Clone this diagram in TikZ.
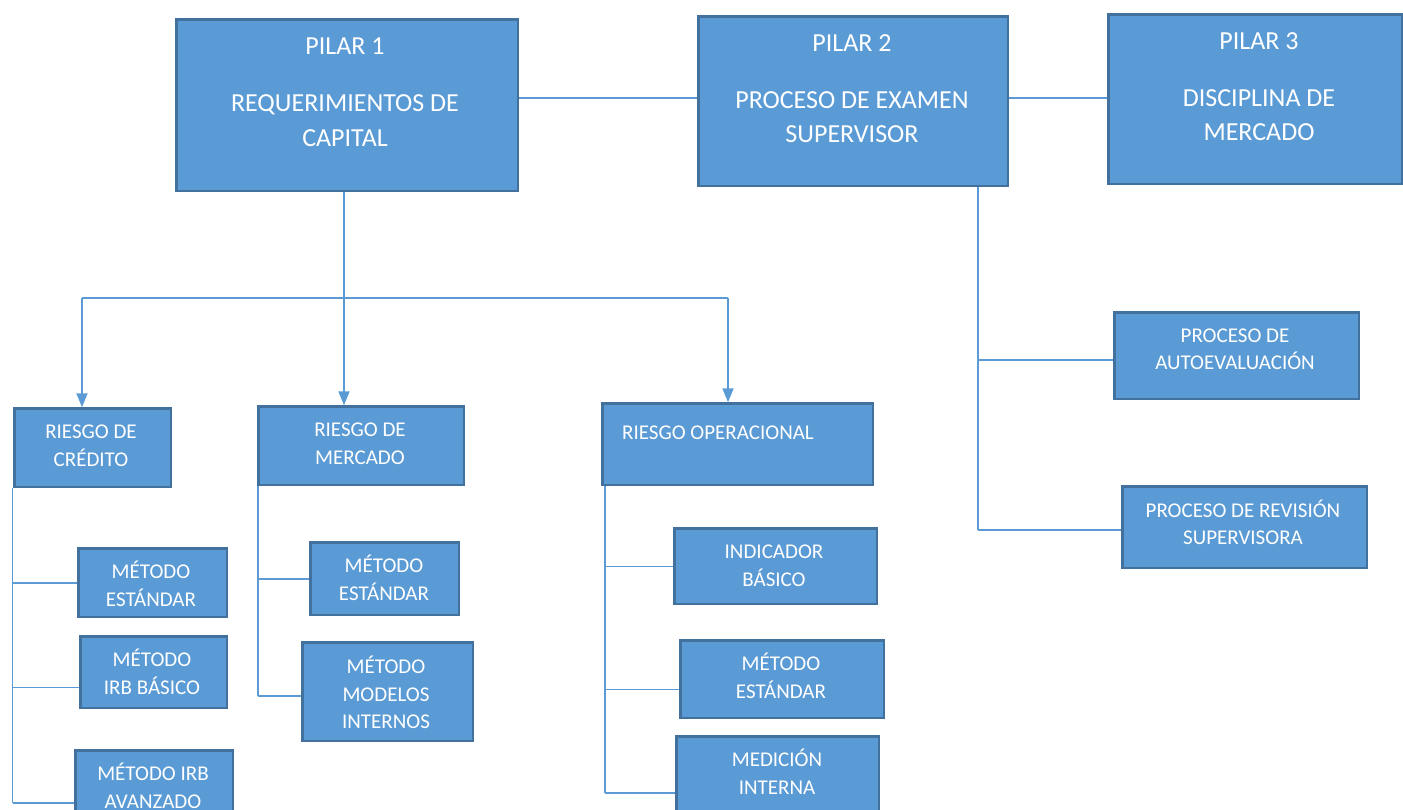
\documentclass[tikz,border=0pt]{standalone}
\usepackage{fontspec}
\setmainfont{Carlito}
\usetikzlibrary{arrows.meta,backgrounds}
\definecolor{boxfill}{RGB}{91,155,213}
\definecolor{boxline}{RGB}{65,113,156}
\definecolor{linkc}{RGB}{91,155,213}
\begin{document}
\begin{tikzpicture}[x=1pt,y=-1pt,
  box/.style 2 args={draw=boxline, fill=boxfill, line width=2.5pt, rectangle, inner sep=0pt,
    anchor=north west, xshift=1.25pt, yshift=-1.25pt,
    minimum width=#1pt-2.5pt, minimum height=#2pt-2.5pt},
  bigt/.style={text=white, font=\fontsize{26}{32}\selectfont, anchor=base, inner sep=0pt},
  smallt/.style={text=white, font=\fontsize{21}{26}\selectfont, anchor=base, inner sep=0pt},
  conn/.style={draw=linkc, line width=1.5pt},
  arr/.style={draw=linkc, line width=2pt, -{Triangle[width=11pt,length=14pt]}, fill=linkc}]
\useasboundingbox (0,0) rectangle (1403,810);
\clip (0,0) rectangle (1403,810);

% boxes
\node[box={344}{174}] (p1) at (174,17) {};
\node[box={312}{172}] (p2) at (696,14) {};
\node[box={296}{172}] (p3) at (1106,12) {};
\node[box={159}{81}] (rc) at (12,406) {};
\node[box={208}{81}] (rm) at (256,404) {};
\node[box={273}{84}] (ro) at (600,401) {};
\node[box={151}{71}] (me1) at (76,546) {};
\node[box={149}{74}] (irbb) at (78,634) {};
\node[box={160}{82}] (irba) at (73,748) {};
\node[box={151}{75}] (ms) at (308,540) {};
\node[box={173}{101}] (mmi) at (300,640) {};
\node[box={205}{78}] (ib) at (672,526) {};
\node[box={206}{80}] (mes) at (678,638) {};
\node[box={205}{96}] (mi) at (674,734) {};
\node[box={247}{89}] (pa) at (1112,310) {};
\node[box={247}{84}] (prs) at (1120,484) {};

% texts
\node[bigt] (p1a) at (345,55) {PILAR 1};
\node[bigt] (p1b) at (345,112) {REQUERIMIENTOS DE};
\node[bigt] (p1c) at (345,147) {CAPITAL};
\node[bigt] (p2a) at (852,52) {PILAR 2};
\node[bigt] (p2b) at (852,109) {PROCESO DE EXAMEN};
\node[bigt] (p2c) at (852,143) {SUPERVISOR};
\node[bigt] (p3a) at (1259,50) {PILAR 3};
\node[bigt] (p3b) at (1259,107) {DISCIPLINA DE};
\node[bigt] (p3c) at (1259,141) {MERCADO};

\node[smallt] (rca) at (91,438) {RIESGO DE};
\node[smallt] (rcb) at (91,466) {CRÉDITO};
\node[smallt] (rma) at (360,436) {RIESGO DE};
\node[smallt] (rmb) at (360,464) {MERCADO};
\node[smallt] (roa) at (718,439) {RIESGO OPERACIONAL};
\node[smallt] (me1a) at (151,578) {MÉTODO};
\node[smallt] (me1b) at (151,606) {ESTÁNDAR};
\node[smallt] (irbba) at (152,666) {MÉTODO};
\node[smallt] (irbbb) at (152,694) {IRB BÁSICO};
\node[smallt] (irbaa) at (153,780) {MÉTODO IRB};
\node[smallt] (irbab) at (153,808) {AVANZADO};
\node[smallt] (msa) at (384,572) {MÉTODO};
\node[smallt] (msb) at (384,600) {ESTÁNDAR};
\node[smallt] (mmia) at (386,673) {MÉTODO};
\node[smallt] (mmib) at (386,701) {MODELOS};
\node[smallt] (mmic) at (386,728) {INTERNOS};
\node[smallt] (iba) at (774,558) {INDICADOR};
\node[smallt] (ibb) at (774,586) {BÁSICO};
\node[smallt] (mesa) at (781,670) {MÉTODO};
\node[smallt] (mesb) at (781,698) {ESTÁNDAR};
\node[smallt] (mia) at (777,766) {MEDICIÓN};
\node[smallt] (mib) at (777,794) {INTERNA};
\node[smallt] (paa) at (1235,342) {PROCESO DE};
\node[smallt] (pab) at (1235,370) {AUTOEVALUACIÓN};
\node[smallt] (prsa) at (1243,517) {PROCESO DE REVISIÓN};
\node[smallt] (prsb) at (1243,544) {SUPERVISORA};

% connector coordinates
\coordinate (top) at (0,98);
\coordinate (j1) at (344,298);
\coordinate (jl) at (82,298);
\coordinate (jr) at (728,298);
\coordinate (cx) at (12.5,803);
\coordinate (mx) at (258,696);
\coordinate (ox) at (605,793);
\coordinate (px) at (978,530);

\begin{scope}[on background layer]
  \draw[conn] (p1.east |- top) -- (p2.west |- top);
  \draw[conn] (p2.east |- top) -- (p3.west |- top);
  \draw[conn] (p1.south -| j1) -- (j1);
  \draw[conn] (jl) -- (jr);
  \draw[arr] (jl) -- (jl |- rc.north);
  \draw[arr] (j1) -- (j1 |- rm.north);
  \draw[arr] (jr) -- (jr |- ro.north);
  % credit
  \draw[conn] (rc.south -| cx) -- (cx);
  \draw[conn] (me1.west -| cx) -- (me1.west);
  \draw[conn] ([yshift=-15pt]irbb.west -| cx) -- ([yshift=-15pt]irbb.west);
  \draw[conn] (cx) -- (cx -| irba.west);
  % market
  \draw[conn] (rm.south -| mx) -- (mx);
  \draw[conn] (ms.west -| mx) -- (ms.west);
  \draw[conn] (mx) -- (mx -| mmi.west);
  % operational
  \draw[conn] (ro.south -| ox) -- (ox);
  \draw[conn] (ib.west -| ox) -- (ib.west);
  \draw[conn] ([yshift=-10pt]mes.west -| ox) -- ([yshift=-10pt]mes.west);
  \draw[conn] (ox) -- (ox -| mi.west);
  % pillar 2
  \draw[conn] (p2.south -| px) -- (px);
  \draw[conn] ([yshift=-4pt]pa.west -| px) -- ([yshift=-4pt]pa.west);
  \draw[conn] (px) -- (px -| prs.west);
\end{scope}
\end{tikzpicture}
\end{document}
